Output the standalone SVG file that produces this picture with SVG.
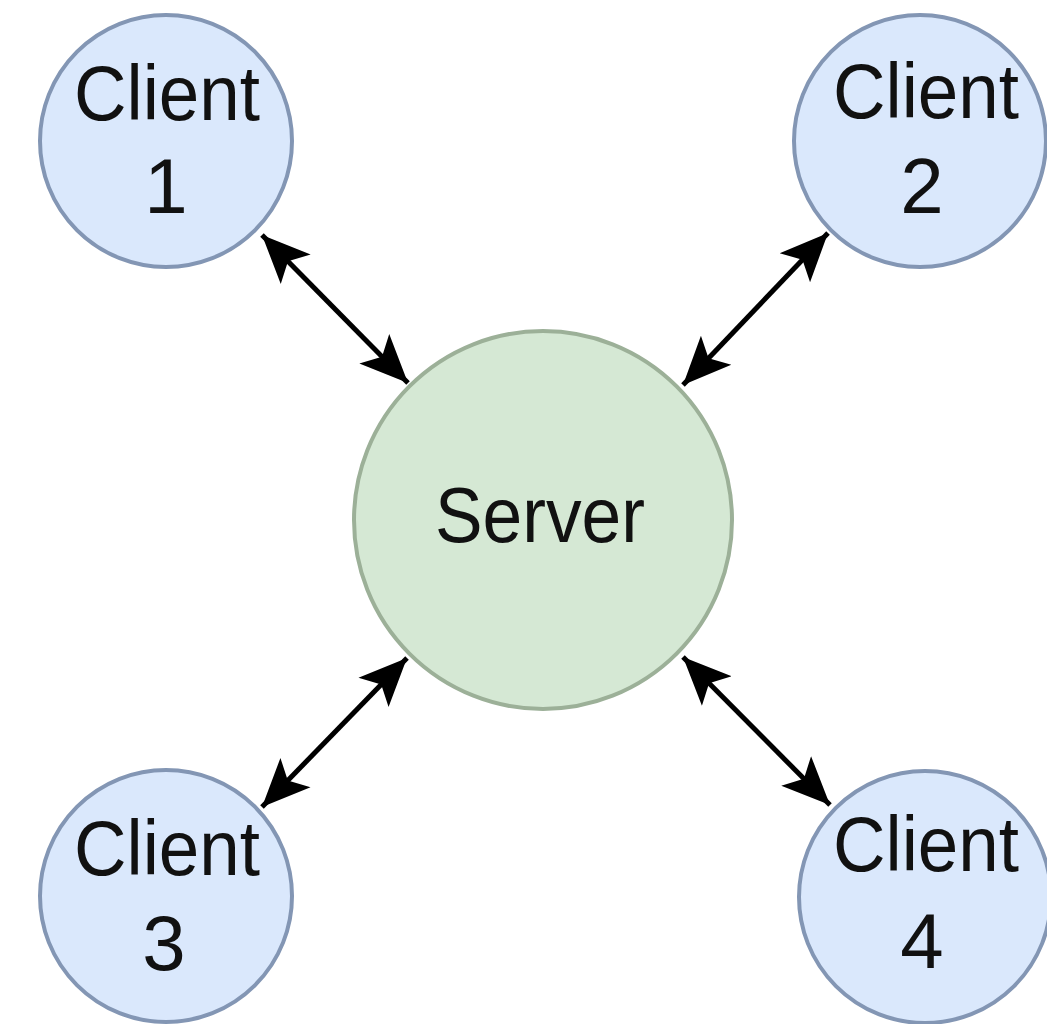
<svg xmlns="http://www.w3.org/2000/svg" width="1047" height="1024" viewBox="0 0 1047 1024">
  <style>
    .client circle { fill: #dae8fc; stroke: #8396b4; stroke-width: 4; }
    .server circle { fill: #d5e8d4; stroke: #9cb098; stroke-width: 4; }
    text { font-family: "Liberation Sans", Arial, sans-serif; font-size: 78px; fill: #111111; text-anchor: middle; }
    .link { stroke: #000000; stroke-width: 5; fill: none; marker-start: url(#head); marker-end: url(#head); }
  </style>
  <defs>
    <!-- filled arrowhead, tip at the line end -->
    <marker id="head" markerUnits="userSpaceOnUse" viewBox="0 -22 48 44" refX="48" refY="0" markerWidth="48" markerHeight="44" orient="auto-start-reverse">
      <path d="M0,-21 L48,0 L0,21 L11,0 Z" fill="#000000"/>
    </marker>
  </defs>

  <rect width="1047" height="1024" fill="#ffffff"/>

  <g id="connectors">
    <line class="link" x1="262" y1="235" x2="408" y2="383"/>
    <line class="link" x1="828" y1="233" x2="683" y2="385"/>
    <line class="link" x1="262" y1="807" x2="407" y2="658"/>
    <line class="link" x1="830" y1="805" x2="683" y2="657"/>
  </g>

  <g id="server" class="server">
    <circle cx="543" cy="520" r="189"/>
    <text x="540" y="542" textLength="210" lengthAdjust="spacingAndGlyphs">Server</text>
  </g>

  <g id="client1" class="client">
    <circle cx="166" cy="141" r="126"/>
    <text x="167" y="120" textLength="186" lengthAdjust="spacingAndGlyphs">Client</text>
    <text x="166" y="213">1</text>
  </g>

  <g id="client2" class="client">
    <circle cx="920" cy="141" r="126"/>
    <text x="926" y="118" textLength="186" lengthAdjust="spacingAndGlyphs">Client</text>
    <text x="922" y="213">2</text>
  </g>

  <g id="client3" class="client">
    <circle cx="166" cy="896" r="126"/>
    <text x="167" y="875" textLength="186" lengthAdjust="spacingAndGlyphs">Client</text>
    <text x="164" y="970">3</text>
  </g>

  <g id="client4" class="client">
    <circle cx="925" cy="897" r="126"/>
    <text x="926" y="871" textLength="186" lengthAdjust="spacingAndGlyphs">Client</text>
    <text x="922" y="968">4</text>
  </g>
</svg>
